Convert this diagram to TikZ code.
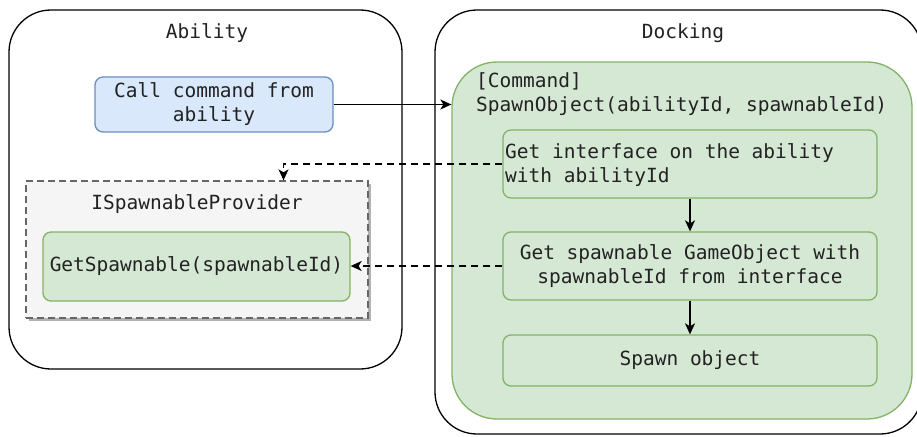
\documentclass[tikz,border=0pt]{standalone}
\usepackage{fontspec}
\setmainfont{DejaVu Sans Mono}
\usetikzlibrary{arrows.meta,shadows,calc}
\definecolor{bluefill}{HTML}{DAE8FC}
\definecolor{bluedraw}{HTML}{6C8EBF}
\definecolor{greenfill}{HTML}{D5E8D4}
\definecolor{greendraw}{HTML}{82B366}
\definecolor{grayfill}{HTML}{F5F5F5}
\definecolor{graydraw}{HTML}{666666}
\definecolor{txt}{HTML}{222222}
\begin{document}
\begin{tikzpicture}[x=1pt,y=-1pt,
  every node/.style={font=\fontsize{19.5}{24}\selectfont, text=txt, inner sep=0pt},
  container/.style={draw=black, line width=1.3pt, rounded corners=42pt, rectangle},
  bluebox/.style={draw=bluedraw, fill=bluefill, line width=1.3pt, rounded corners=8pt, rectangle, align=center},
  greenbox/.style={draw=greendraw, fill=greenfill, line width=1.3pt, rounded corners=8pt, rectangle},
  biggreen/.style={draw=greendraw, fill=greenfill, line width=1.3pt, rounded corners=45pt, rectangle},
  provbox/.style={draw=graydraw, fill=grayfill, line width=1.3pt, dash pattern=on 7pt off 4pt, rectangle,
     drop shadow={shadow xshift=2.5pt, shadow yshift=-2.5pt, fill=black!30, opacity=1}},
  arr/.style={draw=black, line width=1.4pt, -{Stealth[length=11pt,width=10pt,inset=3pt]}},
  darr/.style={arr, dash pattern=on 7pt off 5pt},
  title/.style={anchor=center}
]
\useasboundingbox (0,0) rectangle (917,436);
\fill[white] (0,0) rectangle (917,436);

% Containers
\node[container, minimum width=393pt, minimum height=359pt] (ability) at (205.5,189.5) {};
\node[title] (abilitylbl) at (207,33) {Ability};
\node[container, minimum width=487pt, minimum height=424pt] (docking) at (678.5,222) {};
\node[title] (dockinglbl) at (683,33) {Docking};

% Ability content
\node[bluebox, minimum width=238pt, minimum height=55pt] (call) at (214,104.5) {Call command from\\ability};
\node[provbox, minimum width=342pt, minimum height=137pt] (prov) at (197,249.5) {};
\node[title] (provlbl) at (197,204) {ISpawnableProvider};
\node[greenbox, minimum width=307pt, minimum height=69pt] (getsp) at (196.5,266.5) {GetSpawnable(spawnableId)};

% Docking content
\node[biggreen, minimum width=460pt, minimum height=357pt] (cmd) at (682,240.5) {};
\node[anchor=north west, align=left] (cmdlbl) at (476,72) {[Command]\\SpawnObject(abilityId, spawnableId)};
\node[greenbox, minimum width=374pt, minimum height=68pt] (iface) at (690,164) {};
\node[anchor=west, align=left] (ifacetxt) at (505,165) {Get interface on the ability\\with abilityId};
\node[greenbox, minimum width=374pt, minimum height=68pt, align=center] (spawnable) at (690,266) {Get spawnable GameObject with\\spawnableId from interface};
\node[greenbox, minimum width=374pt, minimum height=51pt] (spawnobj) at (690,360.5) {Spawn object};

% Connectors
\coordinate (provtop) at ($(prov.north west)!0.752!(prov.north east)$);
\draw[arr] (call.east) -- (call.east -| cmd.west);
\draw[darr] (iface.west) -- (iface.west -| provtop) -- (provtop);
\draw[darr] (spawnable.west) -- (spawnable.west -| getsp.east);
\draw[arr] (iface.south) -- (spawnable.north);
\draw[arr] (spawnable.south) -- (spawnobj.north);
\end{tikzpicture}
\end{document}
